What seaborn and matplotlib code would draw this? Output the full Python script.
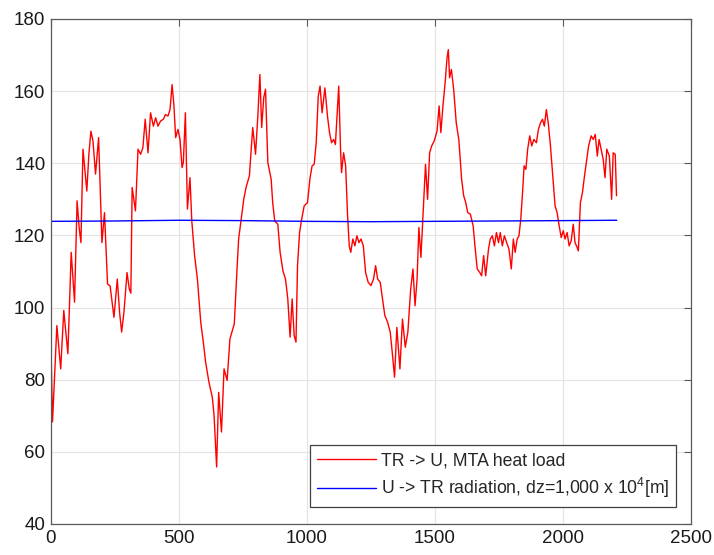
import numpy as np
import pandas as pd
import seaborn as sns
import matplotlib
matplotlib.use("Agg")
import matplotlib.pyplot as plt

# red series: TR -> U, MTA heat load
red_x = [0, 6, 23, 38, 50, 66, 79, 92, 102, 110, 117, 125, 140, 148, 156, 164, 174, 186,
         199, 209, 221, 231, 246, 259, 268, 276, 285, 297, 306, 312, 317, 330, 340, 350,
         359, 368, 379, 389, 400, 409, 418, 428, 439, 447, 457, 465, 473, 480, 487, 496,
         504, 512, 517, 525, 533, 543, 550, 561, 572, 585, 595, 604, 617, 630, 637, 647,
         655, 666, 676, 688, 699, 716, 726, 733, 742, 753, 762, 775, 788, 799, 808, 816,
         823, 831, 838, 847, 860, 866, 874, 886, 895, 906, 916, 925, 934, 942, 950, 957,
         963, 971, 978, 989, 1002, 1012, 1020, 1028, 1036, 1044, 1051, 1059, 1070, 1080,
         1088, 1096, 1104, 1111, 1124, 1131, 1135, 1143, 1151, 1158, 1165, 1171, 1179,
         1187, 1195, 1203, 1211, 1220, 1229, 1239, 1250, 1260, 1268, 1276, 1286, 1297,
         1304, 1315, 1325, 1333, 1342, 1351, 1363, 1373, 1384, 1394, 1405, 1414, 1422,
         1430, 1437, 1445, 1453, 1463, 1471, 1479, 1487, 1497, 1508, 1516, 1523, 1531,
         1539, 1547, 1552, 1557, 1564, 1573, 1583, 1593, 1604, 1612, 1620, 1628, 1638,
         1649, 1656, 1665, 1675, 1682, 1690, 1698, 1709, 1716, 1724, 1732, 1740, 1748,
         1755, 1763, 1771, 1780, 1789, 1798, 1806, 1813, 1821, 1828, 1835, 1842, 1848,
         1855, 1862, 1870, 1878, 1886, 1896, 1904, 1912, 1920, 1927, 1935, 1943, 1951,
         1960, 1969, 1977, 1985, 1993, 2001, 2008, 2016, 2024, 2032, 2040, 2047, 2055,
         2060, 2068, 2076, 2084, 2092, 2100, 2110, 2118, 2126, 2134, 2141, 2149, 2157,
         2164, 2171, 2181, 2190, 2196, 2204, 2209]
red_y = [89.0, 68.3, 95.0, 83.0, 99.2, 87.2, 115.3, 101.5, 129.6, 122.2, 118.0, 143.9,
         132.3, 142.5, 148.9, 146.2, 137.0, 147.1, 118.0, 126.3, 106.5, 106.0, 97.3, 107.9,
         98.7, 93.2, 98.7, 109.7, 105.1, 104.0, 133.3, 126.8, 143.9, 142.5, 144.3, 152.2,
         142.9, 154.0, 150.3, 152.6, 150.3, 151.7, 152.2, 153.5, 153.1, 154.9, 161.8,
         156.3, 147.1, 149.4, 146.6, 138.8, 140.2, 154.0, 127.3, 136.0, 124.0, 114.4,
         107.9, 95.9, 90.4, 84.9, 79.3, 75.2, 70.1, 55.8, 76.5, 65.5, 83.0, 79.8, 91.3,
         95.5, 109.7, 119.0, 124.0, 130.0, 133.3, 136.5, 149.9, 142.5, 153.1, 164.6,
         149.9, 158.2, 160.5, 140.2, 135.6, 129.1, 124.0, 123.1, 115.3, 110.2, 107.9,
         102.4, 91.8, 102.4, 92.2, 90.4, 111.6, 120.8, 124.0, 128.2, 129.1, 136.0, 139.3,
         139.7, 145.7, 158.6, 161.4, 154.0, 160.9, 153.1, 148.5, 145.7, 146.6, 145.2,
         161.4, 143.9, 137.4, 142.9, 139.3, 126.3, 117.1, 115.3, 119.0, 117.1, 119.9,
         118.0, 119.0, 117.1, 109.7, 107.0, 106.1, 107.9, 111.6, 107.9, 107.0, 101.5,
         97.8, 95.9, 93.2, 87.6, 80.7, 94.5, 83.0, 96.8, 89.0, 93.2, 105.1, 110.7, 100.5,
         107.9, 122.2, 113.9, 125.4, 139.7, 130.0, 142.9, 144.8, 146.2, 148.9, 155.9,
         148.5, 155.9, 161.8, 169.2, 171.5, 163.7, 166.0, 160.5, 151.2, 146.6, 135.6,
         131.0, 129.1, 126.3, 125.9, 122.7, 117.1, 110.7, 109.7, 108.8, 114.4, 108.8,
         116.2, 119.0, 119.9, 117.1, 120.8, 118.0, 120.8, 117.1, 119.9, 118.0, 116.2,
         110.7, 119.0, 115.3, 119.0, 119.9, 124.5, 131.9, 139.3, 138.3, 143.9, 147.6,
         144.8, 146.6, 145.7, 149.4, 151.2, 152.2, 150.3, 154.9, 150.8, 144.8, 136.5,
         128.2, 126.3, 122.7, 119.4, 121.3, 119.0, 120.8, 117.1, 118.5, 123.1, 118.0,
         116.7, 115.7, 129.1, 131.9, 136.5, 140.6, 144.8, 147.6, 146.6, 148.0, 142.0,
         146.6, 143.9, 141.1, 136.0, 143.9, 142.0, 130.0, 142.9, 142.5, 131.0]

# blue series: U -> TR radiation (almost flat)
blue_x = [0, 250, 500, 750, 1000, 1250, 1500, 1750, 2000, 2210]
blue_y = [123.9, 124.0, 124.2, 124.1, 123.9, 123.8, 123.9, 124.0, 124.1, 124.2]

red_label = "TR -> U, MTA heat load"
blue_label = "U -> TR radiation, dz=1,000 x 10$^4$[m]"

sns.set_style("white")
plt.rcParams['font.family'] = ['Liberation Sans', 'DejaVu Sans']
plt.rcParams['mathtext.fontset'] = 'custom'
plt.rcParams['mathtext.rm'] = 'Liberation Sans'

df_red = pd.DataFrame({'x': red_x, 'y': red_y})
df_blue = pd.DataFrame({'x': blue_x, 'y': blue_y})

fig = plt.figure(figsize=(7.14, 5.55), dpi=100)
ax = fig.add_axes([0.0714, 0.0559, 0.8964, 0.9099])

sns.lineplot(data=df_red, x='x', y='y', ax=ax, color='#ff0000', linewidth=1.0,
             label=red_label, sort=False)
sns.lineplot(data=df_blue, x='x', y='y', ax=ax, color='#0000ff', linewidth=1.0,
             label=blue_label, sort=False)

ax.set_xlim(0, 2500)
ax.set_ylim(40, 180)
ax.set_xticks(np.arange(0, 2501, 500))
ax.set_yticks(np.arange(40, 181, 20))
ax.set_xlabel('')
ax.set_ylabel('')
ax.grid(True, color='#e3e3e3', linewidth=0.8)
ax.set_axisbelow(True)
for s in ax.spines.values():
    s.set_color('#5a5a5a')
    s.set_linewidth(0.9)
ax.tick_params(direction='in', length=5, width=0.8, color='#5a5a5a',
               top=True, right=True, labelsize=13.5, labelcolor='#1a1a1a', pad=4)

leg = ax.legend(loc='lower right', bbox_to_anchor=(0.977, 0.034), fancybox=False,
                framealpha=1, edgecolor='#404040', fontsize=12.7, handlelength=3.3,
                borderpad=0.4, labelspacing=0.35, handletextpad=0.3, borderaxespad=0)
leg.get_frame().set_linewidth(0.9)

fig.savefig('out.png', dpi=100)
